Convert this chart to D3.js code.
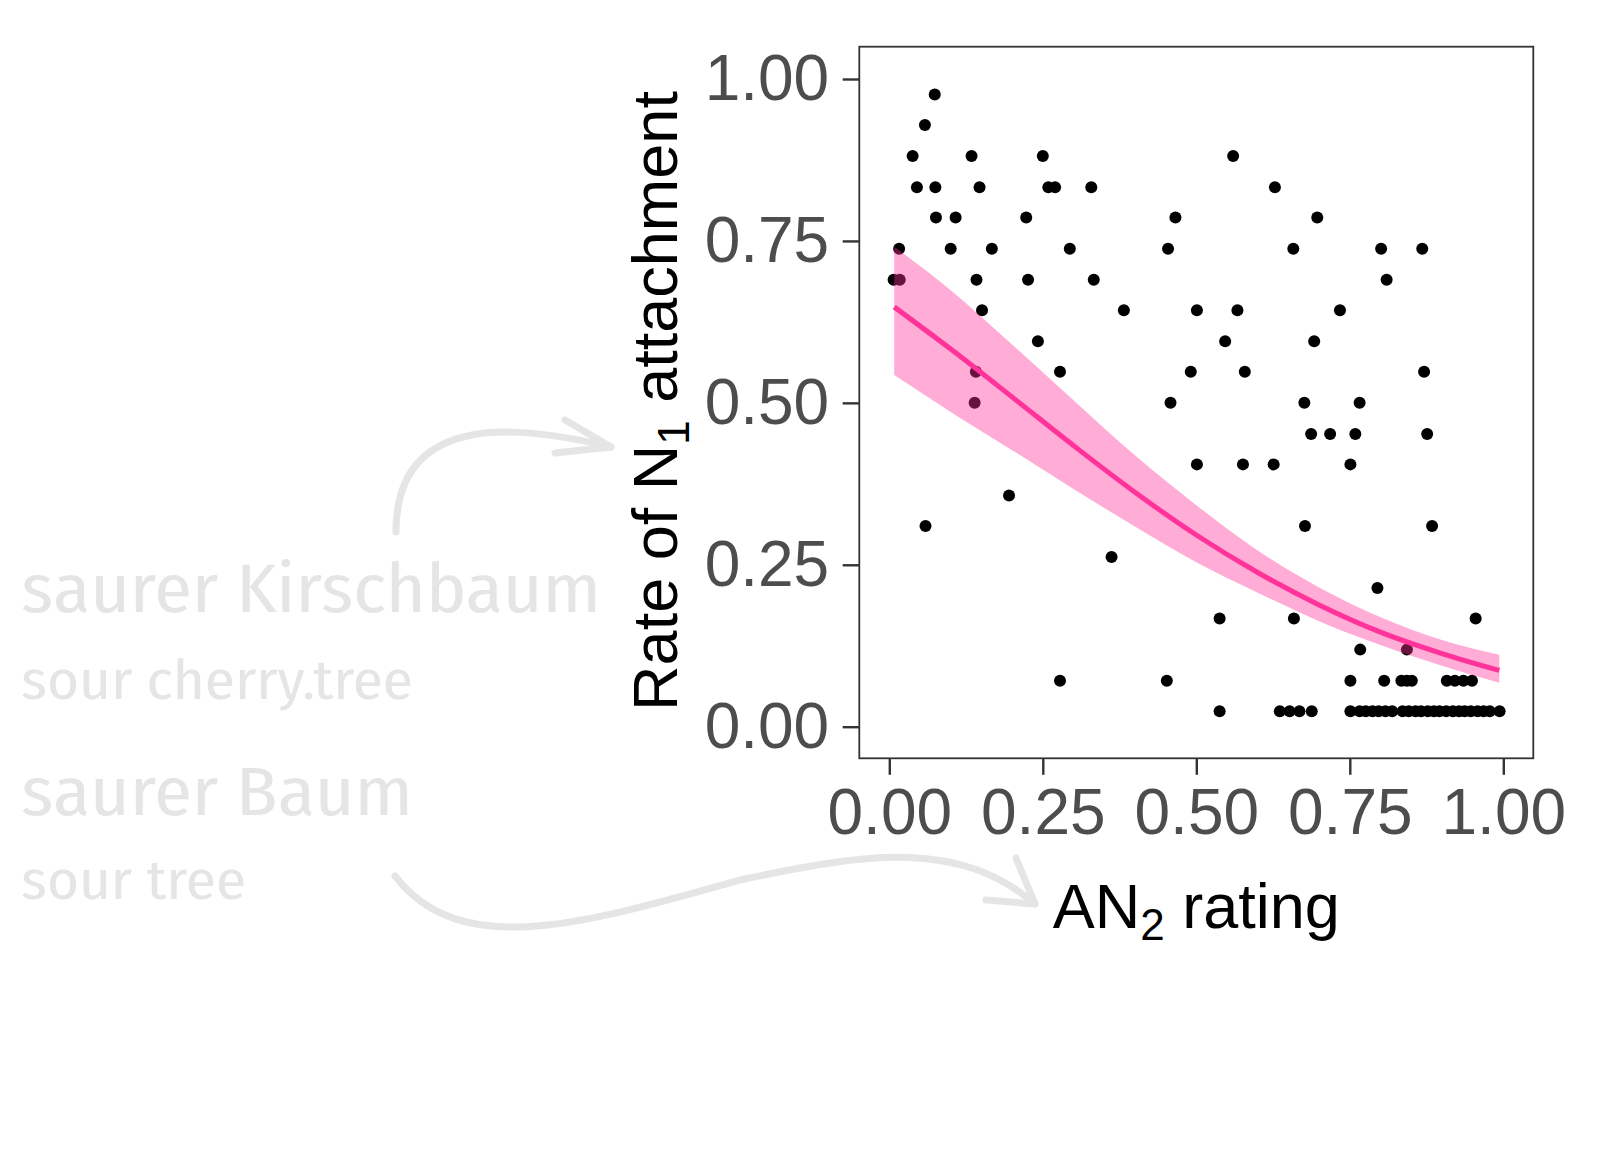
<!DOCTYPE html>
<html>
<head>
<meta charset="utf-8">
<script src="https://cdn.jsdelivr.net/npm/d3@7"></script>
<style>
  body { margin: 0; background: #fff; }
</style>
</head>
<body>
<div class="chart"></div>
<script>
var w = 1615;
var h = 1158;
var panel = {left: 859.3, right: 1533.3, top: 46.7, bottom: 758.3};

var xTicks = [0, 0.25, 0.5, 0.75, 1];
var yTicks = [0, 0.25, 0.5, 0.75, 1];

// observed items: [AN2 rating, rate of N1 attachment]
var points = [
  [0.074, 0.976],
  [0.058, 0.929],
  [0.038, 0.881], [0.134, 0.881], [0.250, 0.881], [0.560, 0.881],
  [0.045, 0.833], [0.075, 0.833], [0.147, 0.833], [0.259, 0.833], [0.270, 0.833], [0.329, 0.833], [0.628, 0.833],
  [0.076, 0.786], [0.108, 0.786], [0.223, 0.786], [0.466, 0.786], [0.697, 0.786],
  [0.016, 0.738], [0.100, 0.738], [0.167, 0.738], [0.294, 0.738], [0.454, 0.738], [0.658, 0.738], [0.801, 0.738], [0.868, 0.738],
  [0.007, 0.690], [0.017, 0.690], [0.142, 0.690], [0.226, 0.690], [0.333, 0.690], [0.810, 0.690],
  [0.151, 0.643], [0.382, 0.643], [0.501, 0.643], [0.567, 0.643], [0.734, 0.643],
  [0.242, 0.595], [0.547, 0.595], [0.692, 0.595],
  [0.141, 0.548], [0.278, 0.548], [0.491, 0.548], [0.579, 0.548], [0.871, 0.548],
  [0.139, 0.500], [0.458, 0.500], [0.676, 0.500], [0.766, 0.500],
  [0.687, 0.452], [0.718, 0.452], [0.759, 0.452], [0.876, 0.452],
  [0.501, 0.405], [0.576, 0.405], [0.626, 0.405], [0.751, 0.405],
  [0.195, 0.357],
  [0.059, 0.310], [0.677, 0.310], [0.884, 0.310],
  [0.362, 0.262],
  [0.795, 0.214],
  [0.538, 0.167], [0.659, 0.167], [0.955, 0.167],
  [0.767, 0.119], [0.843, 0.119],
  [0.278, 0.071], [0.452, 0.071], [0.751, 0.071], [0.806, 0.071], [0.834, 0.071], [0.843, 0.071], [0.851, 0.071],
  [0.908, 0.071], [0.921, 0.071], [0.935, 0.071], [0.949, 0.071],
  [0.538, 0.024], [0.636, 0.024], [0.652, 0.024], [0.668, 0.024], [0.688, 0.024], [0.751, 0.024], [0.766, 0.024],
  [0.776, 0.024], [0.787, 0.024], [0.797, 0.024], [0.808, 0.024], [0.819, 0.024], [0.836, 0.024], [0.846, 0.024],
  [0.857, 0.024], [0.866, 0.024], [0.877, 0.024], [0.887, 0.024], [0.896, 0.024], [0.907, 0.024], [0.918, 0.024],
  [0.928, 0.024], [0.937, 0.024], [0.947, 0.024], [0.958, 0.024], [0.968, 0.024], [0.978, 0.024], [0.994, 0.024]
];

// fitted curve with confidence band
var fitX  = [0.008, 0.1, 0.2, 0.3, 0.4, 0.5, 0.6, 0.7, 0.8, 0.9, 0.9935];
var fitY  = [0.648, 0.583, 0.509, 0.434, 0.362, 0.296, 0.238, 0.188, 0.146, 0.113, 0.087];
var fitLo = [0.543, 0.486, 0.427, 0.367, 0.309, 0.254, 0.207, 0.163, 0.126, 0.094, 0.068];
var fitHi = [0.741, 0.674, 0.590, 0.504, 0.419, 0.342, 0.272, 0.215, 0.169, 0.134, 0.111];

var svg = d3.select(".chart")
            .append("svg")
            .attr("width", w)
            .attr("height", h);

svg.append("rect").attr("width", w).attr("height", h).attr("fill", "#fff");

var xScale = d3.scaleLinear().domain([0, 1]).range([889.3, 1503.3]);
var yScale = d3.scaleLinear().domain([0, 1]).range([726.7, 79]);

// annotations (left side)
var noteFont = "'Fira Sans Condensed', 'Fira Sans', Roboto, 'Noto Sans', sans-serif";
var notes = [
  {t: "saurer Kirschbaum", y: 612, size: 68, len: 580},
  {t: "sour cherry.tree", y: 699, size: 55, len: 392},
  {t: "saurer Baum", y: 815, size: 68, len: 392},
  {t: "sour tree", y: 899, size: 55, len: 225}
];
svg.selectAll(".note")
   .data(notes)
   .enter()
   .append("text")
   .attr("class", "note")
   .attr("x", 21)
   .attr("y", (d) => d.y)
   .attr("textLength", (d) => d.len)
   .attr("lengthAdjust", "spacingAndGlyphs")
   .style("font-family", noteFont)
   .style("font-size", (d) => d.size + "px")
   .style("fill", "#e5e5e5")
   .text((d) => d.t);

var arrows = svg.append("g")
   .attr("fill", "none")
   .attr("stroke", "#e5e5e5")
   .attr("stroke-width", 7)
   .attr("stroke-linecap", "round")
   .attr("stroke-linejoin", "round");
arrows.append("path").attr("d", "M396,532 C396,410 520,425 611,447");
arrows.append("path").attr("d", "M565,420 L611,447 L555,453");
arrows.append("path").attr("d", "M395,876 C460,960 580,925 740,880 C870,852 960,840 1035,904");
arrows.append("path").attr("d", "M1016,858 L1035,904 L986,900");

// points
svg.append("g")
   .selectAll("circle")
   .data(points)
   .enter()
   .append("circle")
   .attr("cx", (d) => xScale(d[0]))
   .attr("cy", (d) => yScale(d[1]))
   .attr("r", 6)
   .attr("fill", "#000");

// ribbon + line
var fit = fitX.map((x, i) => ({x: x, y: fitY[i], lo: fitLo[i], hi: fitHi[i]}));

svg.append("path")
   .datum(fit)
   .attr("fill", "#ff3399")
   .attr("fill-opacity", 0.4)
   .attr("d", d3.area()
      .curve(d3.curveMonotoneX)
      .x((d) => xScale(d.x))
      .y0((d) => yScale(d.lo))
      .y1((d) => yScale(d.hi)));

svg.append("path")
   .datum(fit)
   .attr("fill", "none")
   .attr("stroke", "#ff3399")
   .attr("stroke-width", 5)
   .attr("d", d3.line()
      .curve(d3.curveMonotoneX)
      .x((d) => xScale(d.x))
      .y((d) => yScale(d.y)));

// panel border
svg.append("rect")
   .attr("x", panel.left)
   .attr("y", panel.top)
   .attr("width", panel.right - panel.left)
   .attr("height", panel.bottom - panel.top)
   .attr("fill", "none")
   .attr("stroke", "#333333")
   .attr("stroke-width", 1.8);

// axes
var xAxis = svg.append("g")
   .attr("transform", "translate(0," + panel.bottom + ")")
   .call(d3.axisBottom(xScale).tickValues(xTicks).tickFormat(d3.format(".2f"))
         .tickSize(16.5).tickPadding(14));
var yAxis = svg.append("g")
   .attr("transform", "translate(" + panel.left + ",0)")
   .call(d3.axisLeft(yScale).tickValues(yTicks).tickFormat(d3.format(".2f"))
         .tickSize(16.6).tickPadding(13.5));

[xAxis, yAxis].forEach(function (g) {
  g.select(".domain").remove();
  g.selectAll(".tick line").attr("stroke", "#333333").attr("stroke-width", 2.4);
  g.selectAll(".tick text")
   .attr("fill", "#4d4d4d")
   .style("font-family", "'Liberation Sans', Arial, sans-serif")
   .style("font-size", "64px");
});

// axis titles
var titleFont = "'Liberation Sans', Arial, sans-serif";
var xt = svg.append("text")
   .attr("x", (panel.left + panel.right) / 2)
   .attr("y", 928)
   .attr("text-anchor", "middle")
   .style("font-family", titleFont)
   .style("font-size", "63px")
   .style("fill", "#000");
xt.append("tspan").text("AN");
xt.append("tspan").attr("dy", 12).style("font-size", "44px").text("2");
xt.append("tspan").attr("dy", -12).text(" rating");

var yt = svg.append("text")
   .attr("transform", "translate(677," + 401 + ") rotate(-90)")
   .attr("text-anchor", "middle")
   .style("font-family", titleFont)
   .style("font-size", "63px")
   .style("fill", "#000");
yt.append("tspan").text("Rate of N");
yt.append("tspan").attr("dy", 12).style("font-size", "44px").text("1");
yt.append("tspan").attr("dy", -12).text(" attachment");
</script>
</body>
</html>
